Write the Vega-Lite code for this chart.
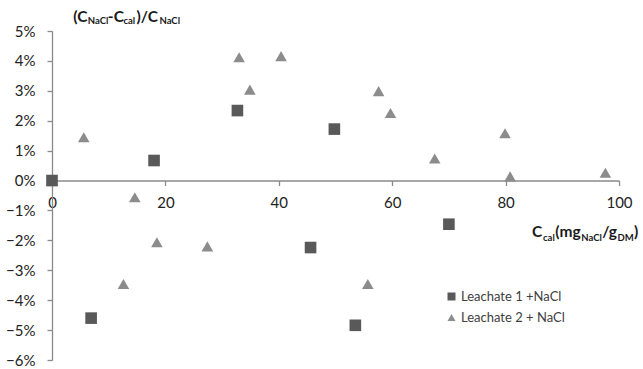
{
  "$schema": "https://vega.github.io/schema/vega-lite/v6.json",
  "autosize": "none",
  "width": 567,
  "height": 329,
  "padding": {"left": 52, "top": 31, "right": 24, "bottom": 9},
  "background": "white",
  "config": {
    "view": {"stroke": null},
    "font": "Lato",
    "axis": {"labelFont": "Lato", "labelFontSize": 15, "labelColor": "#222222", "domainColor": "#8a8a8a", "tickColor": "#8a8a8a", "domainWidth": 1.3, "tickWidth": 1.3, "grid": false, "tickSize": 5, "labelOverlap": false, "title": null, "labelFlush": false},
    "axisX": {"offset": -179.5, "labelPadding": 10},
    "axisY": {"labelPadding": 12, "format": ".0%"},
    "legend": {"labelFont": "Lato", "labelFontSize": 13, "labelColor": "#404040"},
    "text": {"font": "Lato", "fontWeight": "bold", "align": "left", "baseline": "alphabetic", "color": "#1a1a1a"}
  },
  "datasets": {
    "points": [
      {"series": "Leachate 1 +NaCl", "ccal": 0, "dev": 0},
      {"series": "Leachate 1 +NaCl", "ccal": 18.0, "dev": 0.0067},
      {"series": "Leachate 1 +NaCl", "ccal": 32.7, "dev": 0.0234},
      {"series": "Leachate 1 +NaCl", "ccal": 49.8, "dev": 0.0172},
      {"series": "Leachate 1 +NaCl", "ccal": 6.9, "dev": -0.046},
      {"series": "Leachate 1 +NaCl", "ccal": 45.6, "dev": -0.0224},
      {"series": "Leachate 1 +NaCl", "ccal": 70.0, "dev": -0.0146},
      {"series": "Leachate 1 +NaCl", "ccal": 53.5, "dev": -0.0484},
      {"series": "Leachate 2 + NaCl", "ccal": 5.6, "dev": 0.0145},
      {"series": "Leachate 2 + NaCl", "ccal": 33.0, "dev": 0.0412},
      {"series": "Leachate 2 + NaCl", "ccal": 40.4, "dev": 0.0416},
      {"series": "Leachate 2 + NaCl", "ccal": 34.9, "dev": 0.0304},
      {"series": "Leachate 2 + NaCl", "ccal": 57.6, "dev": 0.0299},
      {"series": "Leachate 2 + NaCl", "ccal": 59.7, "dev": 0.0226},
      {"series": "Leachate 2 + NaCl", "ccal": 79.9, "dev": 0.0158},
      {"series": "Leachate 2 + NaCl", "ccal": 67.5, "dev": 0.0074},
      {"series": "Leachate 2 + NaCl", "ccal": 80.8, "dev": 0.0014},
      {"series": "Leachate 2 + NaCl", "ccal": 97.6, "dev": 0.0026},
      {"series": "Leachate 2 + NaCl", "ccal": 14.6, "dev": -0.0056},
      {"series": "Leachate 2 + NaCl", "ccal": 18.5, "dev": -0.0206},
      {"series": "Leachate 2 + NaCl", "ccal": 27.4, "dev": -0.022},
      {"series": "Leachate 2 + NaCl", "ccal": 12.6, "dev": -0.0346},
      {"series": "Leachate 2 + NaCl", "ccal": 55.7, "dev": -0.0346}
    ],
    "one": [{}]
  },
  "layer": [
    {
      "data": {"name": "points"},
      "mark": {"type": "point", "filled": true, "opacity": 1, "strokeWidth": 0, "size": 135},
      "encoding": {
        "x": {"field": "ccal", "type": "quantitative", "scale": {"domain": [0, 100], "nice": false, "zero": false},
          "axis": {"values": [0, 20, 40, 60, 80, 100]}},
        "y": {"field": "dev", "type": "quantitative", "scale": {"domain": [-0.06, 0.05], "nice": false, "zero": false},
          "axis": {"values": [-0.06, -0.05, -0.04, -0.03, -0.02, -0.01, 0, 0.01, 0.02, 0.03, 0.04, 0.05]}},
        "shape": {"field": "series", "type": "nominal",
          "scale": {"domain": ["Leachate 1 +NaCl", "Leachate 2 + NaCl"], "range": ["square", "triangle-up"]},
          "legend": {"orient": "none", "legendX": 393, "legendY": 259, "title": null, "symbolSize": 64, "rowPadding": 7, "labelOffset": 3}},
        "color": {"field": "series", "type": "nominal",
          "scale": {"domain": ["Leachate 1 +NaCl", "Leachate 2 + NaCl"], "range": ["#595959", "#8c8c8c"]}}
      }
    },
    {"data": {"name": "one"}, "mark": {"type": "text", "text": "(C", "fontSize": 15.5},
     "encoding": {"x": {"datum": 3.76, "type": "quantitative", "axis": {"values": [0, 20, 40, 60, 80, 100]}}, "y": {"datum": 0.0530, "type": "quantitative", "axis": {"values": [-0.06, -0.05, -0.04, -0.03, -0.02, -0.01, 0, 0.01, 0.02, 0.03, 0.04, 0.05]}}}},
    {"data": {"name": "one"}, "mark": {"type": "text", "text": "NaCl", "fontSize": 9.5},
     "encoding": {"x": {"datum": 6.31, "type": "quantitative", "axis": {"values": [0, 20, 40, 60, 80, 100]}}, "y": {"datum": 0.0522, "type": "quantitative", "axis": {"values": [-0.06, -0.05, -0.04, -0.03, -0.02, -0.01, 0, 0.01, 0.02, 0.03, 0.04, 0.05]}}}},
    {"data": {"name": "one"}, "mark": {"type": "text", "text": "-C", "fontSize": 15.5},
     "encoding": {"x": {"datum": 9.85, "type": "quantitative", "axis": {"values": [0, 20, 40, 60, 80, 100]}}, "y": {"datum": 0.0530, "type": "quantitative", "axis": {"values": [-0.06, -0.05, -0.04, -0.03, -0.02, -0.01, 0, 0.01, 0.02, 0.03, 0.04, 0.05]}}}},
    {"data": {"name": "one"}, "mark": {"type": "text", "text": "cal", "fontSize": 9.5},
     "encoding": {"x": {"datum": 12.6, "type": "quantitative", "axis": {"values": [0, 20, 40, 60, 80, 100]}}, "y": {"datum": 0.0522, "type": "quantitative", "axis": {"values": [-0.06, -0.05, -0.04, -0.03, -0.02, -0.01, 0, 0.01, 0.02, 0.03, 0.04, 0.05]}}}},
    {"data": {"name": "one"}, "mark": {"type": "text", "text": ")/C", "fontSize": 15.5},
     "encoding": {"x": {"datum": 14.9, "type": "quantitative", "axis": {"values": [0, 20, 40, 60, 80, 100]}}, "y": {"datum": 0.0530, "type": "quantitative", "axis": {"values": [-0.06, -0.05, -0.04, -0.03, -0.02, -0.01, 0, 0.01, 0.02, 0.03, 0.04, 0.05]}}}},
    {"data": {"name": "one"}, "mark": {"type": "text", "text": "NaCl", "fontSize": 9.5},
     "encoding": {"x": {"datum": 18.95, "type": "quantitative", "axis": {"values": [0, 20, 40, 60, 80, 100]}}, "y": {"datum": 0.0522, "type": "quantitative", "axis": {"values": [-0.06, -0.05, -0.04, -0.03, -0.02, -0.01, 0, 0.01, 0.02, 0.03, 0.04, 0.05]}}}},
    {"data": {"name": "one"}, "mark": {"type": "text", "text": "C", "fontSize": 15.5},
     "encoding": {"x": {"datum": 84.66, "type": "quantitative", "axis": {"values": [0, 20, 40, 60, 80, 100]}}, "y": {"datum": -0.019, "type": "quantitative", "axis": {"values": [-0.06, -0.05, -0.04, -0.03, -0.02, -0.01, 0, 0.01, 0.02, 0.03, 0.04, 0.05]}}}},
    {"data": {"name": "one"}, "mark": {"type": "text", "text": "cal", "fontSize": 9.5},
     "encoding": {"x": {"datum": 86.6, "type": "quantitative", "axis": {"values": [0, 20, 40, 60, 80, 100]}}, "y": {"datum": -0.0201, "type": "quantitative", "axis": {"values": [-0.06, -0.05, -0.04, -0.03, -0.02, -0.01, 0, 0.01, 0.02, 0.03, 0.04, 0.05]}}}},
    {"data": {"name": "one"}, "mark": {"type": "text", "text": "(mg", "fontSize": 15.5},
     "encoding": {"x": {"datum": 88.75, "type": "quantitative", "axis": {"values": [0, 20, 40, 60, 80, 100]}}, "y": {"datum": -0.019, "type": "quantitative", "axis": {"values": [-0.06, -0.05, -0.04, -0.03, -0.02, -0.01, 0, 0.01, 0.02, 0.03, 0.04, 0.05]}}}},
    {"data": {"name": "one"}, "mark": {"type": "text", "text": "NaCl", "fontSize": 9.5},
     "encoding": {"x": {"datum": 93.35, "type": "quantitative", "axis": {"values": [0, 20, 40, 60, 80, 100]}}, "y": {"datum": -0.0201, "type": "quantitative", "axis": {"values": [-0.06, -0.05, -0.04, -0.03, -0.02, -0.01, 0, 0.01, 0.02, 0.03, 0.04, 0.05]}}}},
    {"data": {"name": "one"}, "mark": {"type": "text", "text": "/g", "fontSize": 15.5},
     "encoding": {"x": {"datum": 97.05, "type": "quantitative", "axis": {"values": [0, 20, 40, 60, 80, 100]}}, "y": {"datum": -0.019, "type": "quantitative", "axis": {"values": [-0.06, -0.05, -0.04, -0.03, -0.02, -0.01, 0, 0.01, 0.02, 0.03, 0.04, 0.05]}}}},
    {"data": {"name": "one"}, "mark": {"type": "text", "text": "DM", "fontSize": 9.5},
     "encoding": {"x": {"datum": 99.75, "type": "quantitative", "axis": {"values": [0, 20, 40, 60, 80, 100]}}, "y": {"datum": -0.0201, "type": "quantitative", "axis": {"values": [-0.06, -0.05, -0.04, -0.03, -0.02, -0.01, 0, 0.01, 0.02, 0.03, 0.04, 0.05]}}}},
    {"data": {"name": "one"}, "mark": {"type": "text", "text": ")", "fontSize": 15.5},
     "encoding": {"x": {"datum": 102.65, "type": "quantitative", "axis": {"values": [0, 20, 40, 60, 80, 100]}}, "y": {"datum": -0.019, "type": "quantitative", "axis": {"values": [-0.06, -0.05, -0.04, -0.03, -0.02, -0.01, 0, 0.01, 0.02, 0.03, 0.04, 0.05]}}}}
  ]
}
